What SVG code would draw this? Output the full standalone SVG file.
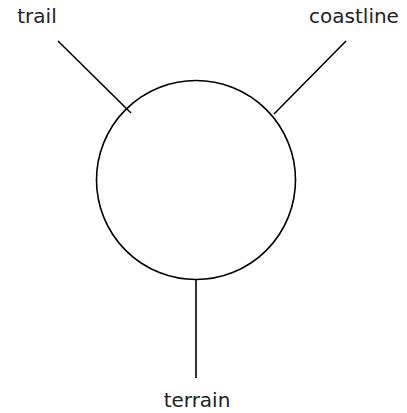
<svg xmlns="http://www.w3.org/2000/svg" width="407" height="413" viewBox="0 0 407 413">
<style>
.lbl{font-family:"DejaVu Sans",Verdana,sans-serif;font-size:20px;fill:#222;text-anchor:middle}
.ln{stroke:#000;stroke-width:1.6;fill:none}
</style>
<rect width="407" height="413" fill="#fff"/>
<g id="connectors">
<line class="ln" x1="58" y1="41" x2="131" y2="113"/>
<line class="ln" x1="346" y1="41" x2="274" y2="114"/>
<line class="ln" x1="196" y1="279" x2="196" y2="378"/>
</g>
<g id="hub"><circle class="ln" cx="196" cy="180" r="99.5"/></g>
<g id="trail"><text class="lbl" x="37" y="23">trail</text></g>
<g id="coastline"><text class="lbl" x="354" y="23">coastline</text></g>
<g id="terrain"><text class="lbl" x="197" y="407">terrain</text></g>
</svg>
